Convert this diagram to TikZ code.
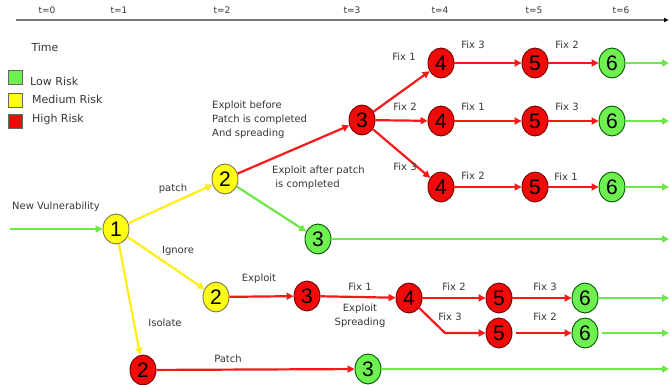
\documentclass[tikz,border=0pt]{standalone}
\usepackage{fontspec}
\setmainfont{DejaVu Sans}
\newfontfamily\digitfont{Liberation Sans}
\usetikzlibrary{arrows.meta,shapes.geometric}

\definecolor{lineRed}{RGB}{245,25,25}
\definecolor{lineGreen}{RGB}{110,232,70}
\definecolor{lineYellow}{RGB}{255,238,20}
\definecolor{fillRed}{RGB}{240,10,10}
\definecolor{fillYellow}{RGB}{255,255,20}
\definecolor{fillGreen}{RGB}{110,240,80}
\definecolor{labelGray}{RGB}{55,55,55}
\definecolor{axisGray}{RGB}{120,120,120}

\tikzset{
  state/.style={ellipse, draw, line width=0.9pt, minimum width=26pt, minimum height=30pt,
    inner sep=0pt, font=\digitfont\fontsize{21}{21}\selectfont},
  lowrisk/.style={state, fill=fillGreen, draw=green!35!black},
  medrisk/.style={state, fill=fillYellow, draw=yellow!40!black},
  highrisk/.style={state, fill=fillRed, draw=red!45!black},
  lbl/.style={font=\fontsize{10}{14}\selectfont, text=labelGray, inner sep=1pt},
  keylbl/.style={font=\fontsize{11}{13}\selectfont, text=labelGray, inner sep=1pt},
  tick/.style={font=\fontsize{9}{10}\selectfont, text=labelGray, inner sep=1pt},
  flow/.style={line width=2.2pt, -{Triangle[length=7pt,width=7pt]}},
  gflow/.style={flow, draw=lineGreen},
  rflow/.style={flow, draw=lineRed},
  yflow/.style={flow, draw=lineYellow},
  key/.style={draw=black!60, line width=0.7pt, minimum width=14pt, minimum height=14pt, inner sep=0pt},
}

\begin{document}
\begin{tikzpicture}[x=1pt,y=-1pt]
\useasboundingbox[fill=white] (0,0) rectangle (670,385);

% time axis
\coordinate (axL) at (16,20);
\coordinate (axR) at (669,20);
\draw[axisGray, line width=1.6pt, -{Latex[length=5pt,width=5pt,black]}] (axL) -- (axR);
\node[tick] (t0) at (47,10) {t=0};
\node[tick] (t1) at (119,10) {t=1};
\node[tick] (t2) at (222,10) {t=2};
\node[tick] (t3) at (352,10) {t=3};
\node[tick] (t4) at (440,10) {t=4};
\node[tick] (t5) at (534,10) {t=5};
\node[tick] (t6) at (621,10) {t=6};
\node[keylbl] (timelbl) at (45,47) {Time};

% legend
\node[key, fill=fillGreen] (kLow) at (15,77) {};
\node[key, fill=fillYellow] (kMed) at (15,100) {};
\node[key, fill=fillRed] (kHigh) at (15,121) {};
\node[keylbl, anchor=west] (kLowT) at (29,81) {Low Risk};
\node[keylbl, anchor=west] (kMedT) at (31,99) {Medium Risk};
\node[keylbl, anchor=west] (kHighT) at (31,119) {High Risk};

% states
\node[medrisk] (n1) at (116,229) {1};
\node[medrisk] (n2a) at (225,179) {2};
\node[medrisk] (n2b) at (216,297) {2};
\node[highrisk] (n2c) at (143,370) {2};
\node[highrisk] (n3a) at (362,120) {3};
\node[lowrisk] (n3b) at (318,239) {3};
\node[highrisk] (n3c) at (307,296) {3};
\node[lowrisk] (n3d) at (368,369) {3};

\node[highrisk] (n4a) at (441,63) {4};
\node[highrisk] (n5a) at (535,63) {5};
\node[lowrisk] (n6a) at (612,63) {6};
\node[highrisk] (n4b) at (441,121) {4};
\node[highrisk] (n5b) at (535,121) {5};
\node[lowrisk] (n6b) at (612,121) {6};
\node[highrisk] (n4c) at (441,187) {4};
\node[highrisk] (n5c) at (535,187) {5};
\node[lowrisk] (n6c) at (612,187) {6};

\node[highrisk] (n4d) at (409,298) {4};
\node[highrisk] (n5d) at (499,298) {5};
\node[lowrisk] (n6d) at (585,298) {6};
\node[highrisk] (n5e) at (499,333) {5};
\node[lowrisk] (n6e) at (585,333) {6};

% free ends
\coordinate (start) at (10,229);
\coordinate (ea) at (669,63);
\coordinate (eb) at (669,121);
\coordinate (ec) at (669,187);
\coordinate (e3b) at (669,239);
\coordinate (ed) at (669,298);
\coordinate (ee) at (669,333);
\coordinate (e3d) at (669,369);
\coordinate (bend) at (445,333);

% connectors
\draw[gflow] (start) -- (n1);
\draw[yflow] (n1) -- (n2a);
\draw[yflow] (n1) -- (n2b);
\draw[yflow] (n1) -- (n2c);
\draw[rflow] (n2a) -- (n3a);
\draw[gflow] (n2a) -- (n3b);
\draw[gflow] (n3b) -- (e3b);

\foreach \s in {a,b,c}{
  \draw[rflow] (n3a) -- (n4\s);
  \draw[rflow] (n4\s) -- (n5\s);
  \draw[rflow] (n5\s) -- (n6\s);
  \draw[gflow] (n6\s) -- (e\s);
}

\draw[rflow] (n2b) -- (n3c);
\draw[rflow] (n3c) -- (n4d);
\draw[rflow] (n4d) -- (n5d);
\draw[rflow] (n5d) -- (n6d);
\draw[gflow] (n6d) -- (ed);
\draw[rflow] (n4d) -- (bend) -- (n5e);
\draw[rflow, shorten <=4pt] (n5e) -- (n6e);
\draw[gflow, shorten <=4pt] (n6e) -- (ee);

\draw[rflow] (n2c) -- (n3d);
\draw[gflow] (n3d) -- (e3d);

% labels
\node[lbl] (lNew) at (56,207) {New Vulnerability};
\node[lbl] (lPatch1) at (173,189) {patch};
\node[lbl] (lIgnore) at (178,251) {Ignore};
\node[lbl] (lIsolate) at (165,323) {Isolate};
\node[lbl] (lExploit) at (259,279) {Exploit};
\node[lbl] (lPatch2) at (228,359) {Patch};
\node[lbl, anchor=west, align=left] (lBefore) at (211,120) {Exploit before\\Patch is completed\\And spreading};
\node[lbl, anchor=west, align=left] (lAfter) at (271,178) {Exploit after patch\\\ is completed};

\node[lbl] (fa1) at (404,57) {Fix 1};
\node[lbl] (fa2) at (473,45) {Fix 3};
\node[lbl] (fa3) at (567,45) {Fix 2};
\node[lbl] (fb1) at (405,107) {Fix 2};
\node[lbl] (fb2) at (473,107) {Fix 1};
\node[lbl] (fb3) at (567,107) {Fix 3};
\node[lbl] (fc1) at (405,167) {Fix 3};
\node[lbl] (fc2) at (473,176) {Fix 2};
\node[lbl] (fc3) at (566,177) {Fix 1};

\node[lbl] (fd1) at (360,287) {Fix 1};
\node[lbl, align=center] (lSpread) at (360,316) {Exploit\\Spreading};
\node[lbl] (fd2) at (454,287) {Fix 2};
\node[lbl] (fd3) at (545,287) {Fix 3};
\node[lbl] (fe1) at (450,317) {Fix 3};
\node[lbl] (fe2) at (545,317) {Fix 2};
\end{tikzpicture}
\end{document}
